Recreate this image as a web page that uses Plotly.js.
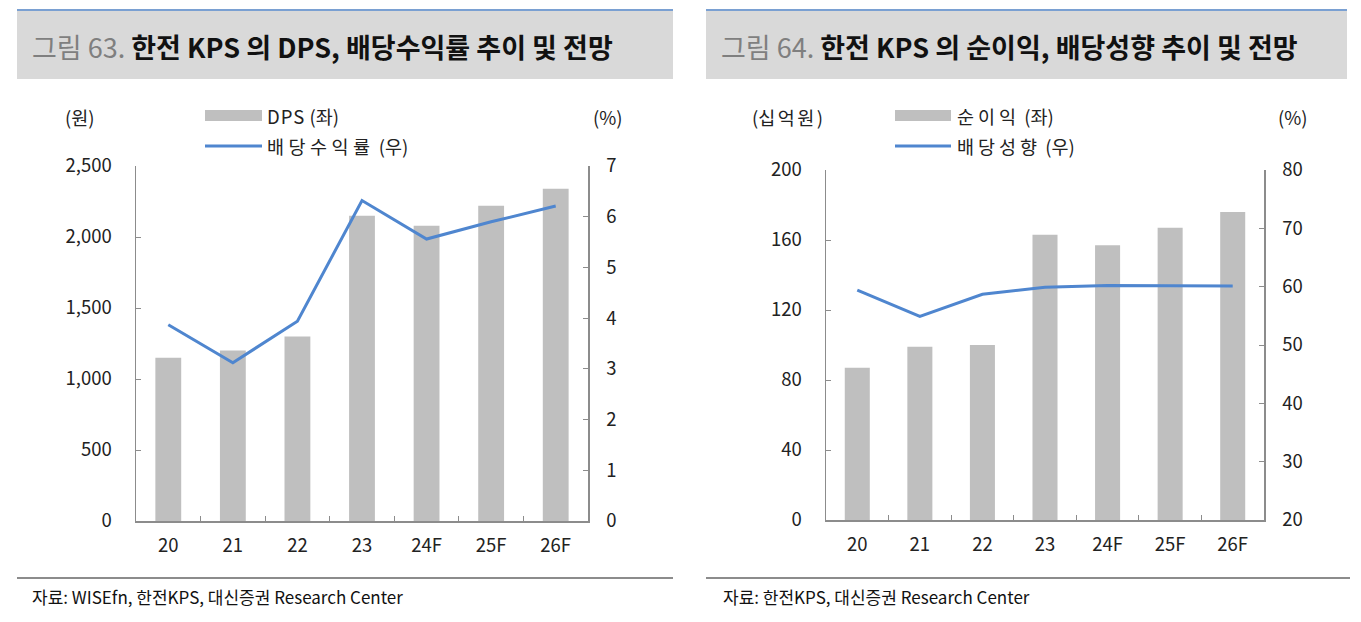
<!DOCTYPE html>
<html>
<head>
<meta charset="utf-8">
<script src="https://cdn.plot.ly/plotly-3.0.1.min.js"></script>
<style>
  html, body { margin: 0; padding: 0; background: #fff; }
  #chart { width: 1361px; height: 622px; }
</style>
</head>
<body>
<div id="chart"></div>
<script>
// ---- Data ----
const categories = ['20', '21', '22', '23', '24F', '25F', '26F'];
const dps = [1150, 1200, 1300, 2150, 2080, 2220, 2340];
const dividendYield = [3.87, 3.12, 3.94, 6.32, 5.56, 5.90, 6.21];
const netIncome = [87, 99, 100, 163, 157, 167, 176];
const payoutRatio = [59.4, 54.9, 58.7, 59.9, 60.2, 60.1, 60.1];

const leftTicksL = [0, 500, 1000, 1500, 2000, 2500];
const leftTicksR = [0, 1, 2, 3, 4, 5, 6, 7];
const rightTicksL = [0, 40, 80, 120, 160, 200];
const rightTicksR = [20, 30, 40, 50, 60, 70, 80];

// ---- Geometry helpers (pixel -> paper) ----
const W = 1361, H = 622;
const px = x => x / W;
const py = y => 1 - y / H;

const FONT = '"Noto Sans CJK KR", "Noto Sans", sans-serif';
const BAR = '#bfbfbf';
const LINE = '#4f86cf';
const AX = '#8c8c8c';

const traces = [
  { type: 'bar', x: categories, y: dps, xaxis: 'x', yaxis: 'y', name: 'DPS (좌)',
    marker: { color: BAR }, width: 0.4, showlegend: false },
  { type: 'scatter', mode: 'lines', x: categories, y: dividendYield, xaxis: 'x', yaxis: 'y2',
    name: '배당수익률 (우)', line: { color: LINE, width: 3 }, showlegend: false },
  { type: 'bar', x: categories, y: netIncome, xaxis: 'x2', yaxis: 'y3', name: '순이익 (좌)',
    marker: { color: BAR }, width: 0.4, showlegend: false },
  { type: 'scatter', mode: 'lines', x: categories, y: payoutRatio, xaxis: 'x2', yaxis: 'y4',
    name: '배당성향 (우)', line: { color: LINE, width: 3 }, showlegend: false }
];

const tickFont = { family: FONT, size: 18.5, color: '#222' };

function xAxis(dom) {
  return {
    domain: dom, type: 'category', range: [-0.5, 6.5],
    showline: true, linecolor: AX, linewidth: 1.5,
    ticks: 'inside', ticklen: 5, tickcolor: AX, tickson: 'boundaries',
    showgrid: false, zeroline: false, tickfont: tickFont, ticklabelstandoff: 7,
    fixedrange: true
  };
}
function yAxis(dom, range, vals, side, anchor, overlay, fmt) {
  const a = {
    domain: dom, range: range, tickvals: vals, side: side, anchor: anchor,
    showline: true, linecolor: AX, linewidth: 1.5,
    ticks: 'inside', ticklen: 5, tickcolor: AX,
    showgrid: false, zeroline: false, tickfont: tickFont,
    tickformat: fmt || '', separators: '.,', ticklabelstandoff: side === 'left' ? 19 : 13,
    fixedrange: true
  };
  if (overlay) a.overlaying = overlay;
  return a;
}

const dxL = [px(136), px(588)], dyL = [py(521), py(166)];
const dxR = [px(826), px(1264)], dyR = [py(520), py(170)];

const shapes = [
  // title boxes
  { type: 'rect', xref: 'paper', yref: 'paper', x0: px(17), x1: px(673), y0: py(79), y1: py(10),
    fillcolor: '#d9d9d9', line: { width: 0 }, layer: 'below' },
  { type: 'rect', xref: 'paper', yref: 'paper', x0: px(706), x1: px(1347), y0: py(79), y1: py(10),
    fillcolor: '#d9d9d9', line: { width: 0 }, layer: 'below' },
  { type: 'line', xref: 'paper', yref: 'paper', x0: px(17), x1: px(673), y0: py(10), y1: py(10),
    line: { color: '#7aa0d2', width: 2 } },
  { type: 'line', xref: 'paper', yref: 'paper', x0: px(706), x1: px(1347), y0: py(10), y1: py(10),
    line: { color: '#7aa0d2', width: 2 } },
  // footer lines
  { type: 'line', xref: 'paper', yref: 'paper', x0: px(17), x1: px(673), y0: py(578), y1: py(578),
    line: { color: '#8c8c8c', width: 2 } },
  { type: 'line', xref: 'paper', yref: 'paper', x0: px(706), x1: px(1350), y0: py(578), y1: py(578),
    line: { color: '#8c8c8c', width: 2 } },
  // legend swatches
  { type: 'rect', xref: 'paper', yref: 'paper', x0: px(205), x1: px(262), y0: py(121), y1: py(110),
    fillcolor: BAR, line: { width: 0 } },
  { type: 'line', xref: 'paper', yref: 'paper', x0: px(205), x1: px(262), y0: py(146), y1: py(146),
    line: { color: LINE, width: 3 } },
  { type: 'rect', xref: 'paper', yref: 'paper', x0: px(895), x1: px(951), y0: py(121), y1: py(110),
    fillcolor: BAR, line: { width: 0 } },
  { type: 'line', xref: 'paper', yref: 'paper', x0: px(895), x1: px(951), y0: py(146), y1: py(146),
    line: { color: LINE, width: 3 } }
];

function ann(x, y, text, size, xanchor, color) {
  return { xref: 'paper', yref: 'paper', x: px(x), y: py(y), text: text, showarrow: false,
    xanchor: xanchor || 'left', yanchor: 'middle',
    font: { family: FONT, size: size, color: color || '#222' } };
}
const sp = (t, s) => '<span style="letter-spacing:' + s + 'px">' + t + '</span>';

const annotations = [
  ann(30, 46, '<span style="color:#7f7f7f">그림 63.</span> <b>한전 KPS 의 DPS, 배당수익률 추이 및 전망</b>', 27, 'left', '#111'),
  ann(719, 46, '<span style="color:#7f7f7f">그림 64.</span> <b>한전 KPS 의 순이익, 배당성향 추이 및 전망</b>', 27, 'left', '#111'),
  ann(80, 117, '(원)', 18.5, 'center'),
  ann(608, 117, '(%)', 18.5, 'center'),
  ann(265, 116, sp('DPS', 1) + ' (좌)', 18.5),
  ann(265, 146, sp('배당수익률', 4.5) + ' (우)', 18.5),
  ann(787, 117, '(' + sp('십억원', 2.5) + ')', 18.5, 'center'),
  ann(1293, 117, '(%)', 18.5, 'center'),
  ann(955, 116, sp('순이익', 4) + ' (좌)', 18.5),
  ann(955, 146, sp('배당성향', 4) + ' (우)', 18.5),
  ann(30, 596, '자료: WISEfn, 한전KPS, 대신증권 Research Center', 17, 'left', '#111'),
  ann(721, 596, '자료: 한전KPS, 대신증권 Research Center', 17, 'left', '#111')
];

const layout = {
  width: W, height: H,
  margin: { l: 0, r: 0, t: 0, b: 0, pad: 0 },
  paper_bgcolor: '#fff', plot_bgcolor: 'rgba(0,0,0,0)',
  showlegend: false,
  font: { family: FONT, color: '#222' },
  bargap: 0.6,
  xaxis: Object.assign(xAxis(dxL), { anchor: 'y' }),
  yaxis: yAxis(dyL, [0, 2500], leftTicksL, 'left', 'x', null, ','),
  yaxis2: yAxis(dyL, [0, 7], leftTicksR, 'right', 'x', 'y'),
  xaxis2: Object.assign(xAxis(dxR), { anchor: 'y3' }),
  yaxis3: yAxis(dyR, [0, 200], rightTicksL, 'left', 'x2'),
  yaxis4: yAxis(dyR, [20, 80], rightTicksR, 'right', 'x2', 'y3'),
  shapes: shapes,
  annotations: annotations
};

Plotly.newPlot('chart', traces, layout, { displayModeBar: false, staticPlot: true });
</script>
</body>
</html>
